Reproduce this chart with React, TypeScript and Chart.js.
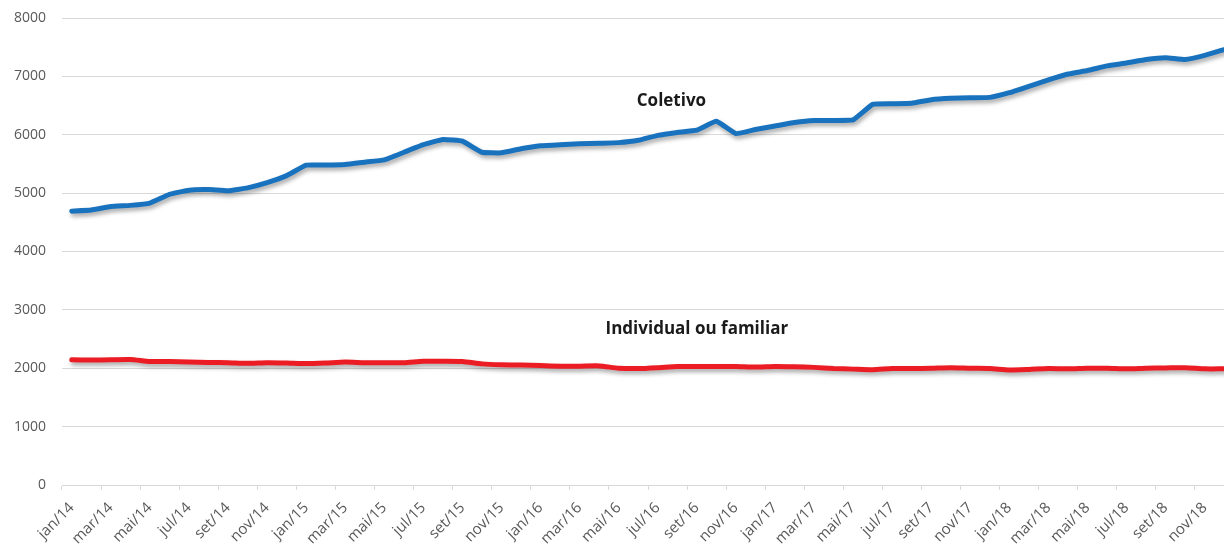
import React, { useEffect, useRef } from "react";
import { Chart, registerables } from "chart.js";

Chart.register(...registerables);

const categories = [
  "jan/14", "fev/14", "mar/14", "abr/14", "mai/14", "jun/14", "jul/14", "ago/14", "set/14", "out/14", "nov/14", "dez/14",
  "jan/15", "fev/15", "mar/15", "abr/15", "mai/15", "jun/15", "jul/15", "ago/15", "set/15", "out/15", "nov/15", "dez/15",
  "jan/16", "fev/16", "mar/16", "abr/16", "mai/16", "jun/16", "jul/16", "ago/16", "set/16", "out/16", "nov/16", "dez/16",
  "jan/17", "fev/17", "mar/17", "abr/17", "mai/17", "jun/17", "jul/17", "ago/17", "set/17", "out/17", "nov/17", "dez/17",
  "jan/18", "fev/18", "mar/18", "abr/18", "mai/18", "jun/18", "jul/18", "ago/18", "set/18", "out/18", "nov/18", "dez/18",
];

const coletivo = [
  4690, 4710, 4770, 4790, 4830, 4980, 5050, 5060, 5040, 5090, 5180, 5300,
  5480, 5480, 5490, 5530, 5570, 5700, 5830, 5920, 5890, 5700, 5690, 5760,
  5810, 5830, 5845, 5855, 5865, 5905, 5990, 6040, 6080, 6230, 6020, 6090,
  6150, 6210, 6245, 6245, 6255, 6520, 6530, 6540, 6600, 6625, 6635, 6640,
  6720, 6830, 6940, 7040, 7100, 7180, 7230, 7290, 7320, 7290, 7360, 7460,
];

const individual = [
  2145, 2140, 2145, 2150, 2115, 2115, 2105, 2100, 2095, 2085, 2095, 2090,
  2080, 2090, 2105, 2095, 2095, 2095, 2120, 2120, 2115, 2075, 2060, 2055,
  2045, 2035, 2035, 2040, 2000, 1995, 2010, 2030, 2030, 2030, 2030, 2020,
  2030, 2025, 2015, 1995, 1985, 1975, 1995, 1995, 2000, 2010, 2000, 1995,
  1970, 1980, 1995, 1990, 2000, 2000, 1990, 2000, 2005, 2010, 1990, 1990,
];

const yTicks = [0, 1000, 2000, 3000, 4000, 5000, 6000, 7000, 8000];

// annotation labels: text, category index position, value position
const annotations = [
  { text: "Coletivo", at: 30.7, value: 6580 },
  { text: "Individual ou familiar", at: 32.0, value: 2665 },
];

const FONT = "'Open Sans', 'Noto Sans', sans-serif";

const shadowPlugin = {
  id: "lineShadow",
  beforeDatasetDraw(chart: any) {
    const c = chart.ctx;
    c.save();
    c.shadowColor = "rgba(0,0,0,0.35)";
    c.shadowBlur = 4;
    c.shadowOffsetX = 1.5;
    c.shadowOffsetY = 3;
  },
  afterDatasetDraw(chart: any) {
    chart.ctx.restore();
  },
};

const annotationPlugin = {
  id: "seriesLabels",
  afterDraw(chart: any) {
    const c = chart.ctx;
    const xs = chart.scales.x;
    const ys = chart.scales.y;
    c.save();
    c.font = `bold 17px ${FONT}`;
    c.fillStyle = "#1a1a1a";
    c.textAlign = "center";
    c.textBaseline = "middle";
    for (const a of annotations) {
      const i0 = Math.floor(a.at);
      const f = a.at - i0;
      const x = xs.getPixelForValue(i0) * (1 - f) + xs.getPixelForValue(i0 + 1) * f;
      const y = ys.getPixelForValue(a.value);
      c.fillText(a.text, x, y);
    }
    c.restore();
  },
};

export default function App() {
  const ref = useRef<HTMLCanvasElement>(null);

  useEffect(() => {
    const chart = new Chart(ref.current as HTMLCanvasElement, {
      type: "line",
      data: {
        labels: categories,
        datasets: [
          {
            label: "Coletivo",
            data: coletivo,
            borderColor: "#1872be",
            borderWidth: 5,
            tension: 0.1,
            pointRadius: 0,
            borderCapStyle: "round",
            borderJoinStyle: "round",
          },
          {
            label: "Individual ou familiar",
            data: individual,
            borderColor: "#ec1c24",
            borderWidth: 5,
            tension: 0.2,
            pointRadius: 0,
            borderCapStyle: "round",
            borderJoinStyle: "round",
          },
        ],
      },
      options: {
        responsive: true,
        maintainAspectRatio: false,
        animation: false,
        layout: { padding: { top: 18, right: 0, bottom: 0, left: 0 } },
        plugins: {
          legend: { display: false },
          tooltip: { enabled: false },
        },
        scales: {
          x: {
            type: "category",
            offset: true,
            grid: {
              offset: true,
              drawOnChartArea: false,
              tickLength: 5,
              lineWidth: 1,
              color: (ctx: any) => (ctx.index % 2 === 0 ? "#d9d9d9" : "rgba(0,0,0,0)"),
            },
            border: { display: true, color: "#d9d9d9", width: 1 },
            ticks: {
              autoSkip: false,
              maxRotation: 45,
              minRotation: 45,
              padding: 9,
              color: "#595959",
              font: { family: FONT, size: 15 },
              callback: (_v: any, i: number) => (i % 2 === 0 ? categories[i] : ""),
            },
            afterFit: (s: any) => {
              s.height = 63;
            },
          },
          y: {
            min: yTicks[0],
            max: yTicks[yTicks.length - 1],
            afterBuildTicks: (s: any) => {
              s.ticks = yTicks.map((v) => ({ value: v }));
            },
            ticks: {
              padding: 0,
              color: "#595959",
              font: { family: FONT, size: 14 },
              callback: (v: any) => String(v),
            },
            grid: {
              color: "#d9d9d9",
              lineWidth: 1,
              drawTicks: true,
              tickLength: 16,
              tickColor: "rgba(0,0,0,0)",
            },
            border: { display: false },
            afterFit: (s: any) => {
              s.width = 62;
            },
          },
        },
      },
      plugins: [shadowPlugin, annotationPlugin],
    });
    return () => chart.destroy();
  }, []);

  return (
    <div
      style={{
        position: "fixed",
        left: 0,
        top: 0,
        width: 1224,
        height: 548,
        overflow: "hidden",
        background: "#ffffff",
      }}
    >
      <div style={{ position: "relative", width: 1246, height: 548 }}>
        <canvas ref={ref} />
      </div>
    </div>
  );
}
